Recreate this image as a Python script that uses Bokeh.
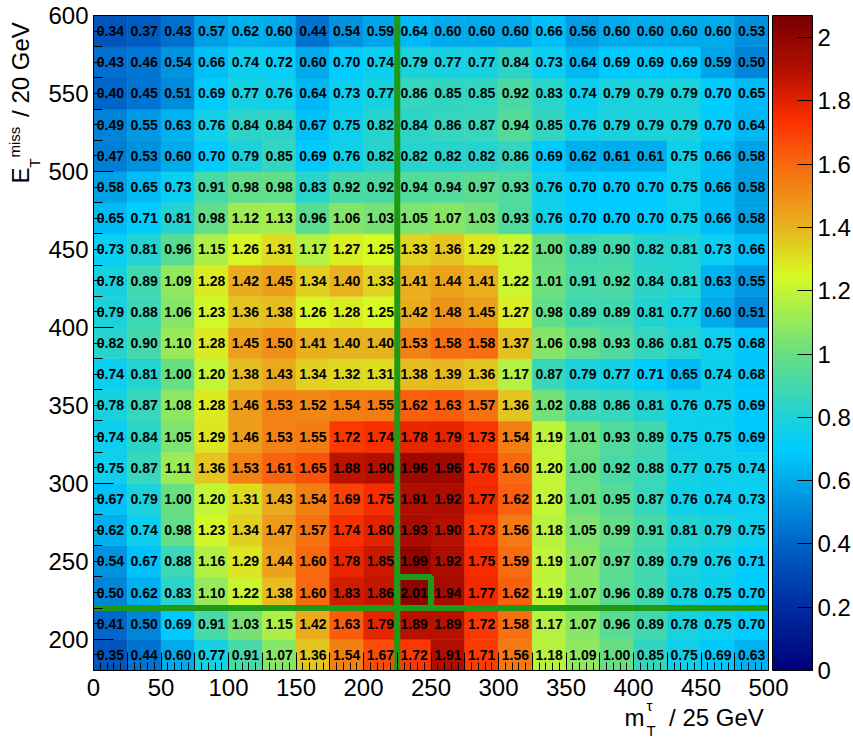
import numpy as np
from bokeh.plotting import figure
from bokeh.models import (ColumnDataSource, LinearColorMapper, ColorBar, FixedTicker,
                          CustomJSTickFormatter, Label, LinearAxis)
from bokeh.core.properties import value
from bokeh.embed import file_html
from bokeh.resources import INLINE

# ---------------------------------------------------------------- data
# lower edges of the bins (m_T^tau in 25 GeV bins, E_T^miss in 20 GeV bins)
mt_low = [0, 25, 50, 75, 100, 125, 150, 175, 200, 225,
          250, 275, 300, 325, 350, 375, 400, 425, 450, 475]
met_low = [180, 200, 220, 240, 260, 280, 300, 320, 340, 360, 380,
           400, 420, 440, 460, 480, 500, 520, 540, 560, 580]
mt_width = 25
met_width = 20
mt_range = (0, 500)
met_range = (180, 600)

# ratio per bin, one list per E_T^miss row (keyed by the row's lower edge)
row_580 = [0.34, 0.37, 0.43, 0.57, 0.62, 0.60, 0.44, 0.54, 0.59, 0.64, 0.60, 0.60, 0.60, 0.66, 0.56, 0.60, 0.60, 0.60, 0.60, 0.53]
row_560 = [0.43, 0.46, 0.54, 0.66, 0.74, 0.72, 0.60, 0.70, 0.74, 0.79, 0.77, 0.77, 0.84, 0.73, 0.64, 0.69, 0.69, 0.69, 0.59, 0.50]
row_540 = [0.40, 0.45, 0.51, 0.69, 0.77, 0.76, 0.64, 0.73, 0.77, 0.86, 0.85, 0.85, 0.92, 0.83, 0.74, 0.79, 0.79, 0.79, 0.70, 0.65]
row_520 = [0.49, 0.55, 0.63, 0.76, 0.84, 0.84, 0.67, 0.75, 0.82, 0.84, 0.86, 0.87, 0.94, 0.85, 0.76, 0.79, 0.79, 0.79, 0.70, 0.64]
row_500 = [0.47, 0.53, 0.60, 0.70, 0.79, 0.85, 0.69, 0.76, 0.82, 0.82, 0.82, 0.82, 0.86, 0.69, 0.62, 0.61, 0.61, 0.75, 0.66, 0.58]
row_480 = [0.58, 0.65, 0.73, 0.91, 0.98, 0.98, 0.83, 0.92, 0.92, 0.94, 0.94, 0.97, 0.93, 0.76, 0.70, 0.70, 0.70, 0.75, 0.66, 0.58]
row_460 = [0.65, 0.71, 0.81, 0.98, 1.12, 1.13, 0.96, 1.06, 1.03, 1.05, 1.07, 1.03, 0.93, 0.76, 0.70, 0.70, 0.70, 0.75, 0.66, 0.58]
row_440 = [0.73, 0.81, 0.96, 1.15, 1.26, 1.31, 1.17, 1.27, 1.25, 1.33, 1.36, 1.29, 1.22, 1.00, 0.89, 0.90, 0.82, 0.81, 0.73, 0.66]
row_420 = [0.78, 0.89, 1.09, 1.28, 1.42, 1.45, 1.34, 1.40, 1.33, 1.41, 1.44, 1.41, 1.22, 1.01, 0.91, 0.92, 0.84, 0.81, 0.63, 0.55]
row_400 = [0.79, 0.88, 1.06, 1.23, 1.36, 1.38, 1.26, 1.28, 1.25, 1.42, 1.48, 1.45, 1.27, 0.98, 0.89, 0.89, 0.81, 0.77, 0.60, 0.51]
row_380 = [0.82, 0.90, 1.10, 1.28, 1.45, 1.50, 1.41, 1.40, 1.40, 1.53, 1.58, 1.58, 1.37, 1.06, 0.98, 0.93, 0.86, 0.81, 0.75, 0.68]
row_360 = [0.74, 0.81, 1.00, 1.20, 1.38, 1.43, 1.34, 1.32, 1.31, 1.38, 1.39, 1.36, 1.17, 0.87, 0.79, 0.77, 0.71, 0.65, 0.74, 0.68]
row_340 = [0.78, 0.87, 1.08, 1.28, 1.46, 1.53, 1.52, 1.54, 1.55, 1.62, 1.63, 1.57, 1.36, 1.02, 0.88, 0.86, 0.81, 0.76, 0.75, 0.69]
row_320 = [0.74, 0.84, 1.05, 1.29, 1.46, 1.53, 1.55, 1.72, 1.74, 1.78, 1.79, 1.73, 1.54, 1.19, 1.01, 0.93, 0.89, 0.75, 0.75, 0.69]
row_300 = [0.75, 0.87, 1.11, 1.36, 1.53, 1.61, 1.65, 1.88, 1.90, 1.96, 1.96, 1.76, 1.60, 1.20, 1.00, 0.92, 0.88, 0.77, 0.75, 0.74]
row_280 = [0.67, 0.79, 1.00, 1.20, 1.31, 1.43, 1.54, 1.69, 1.75, 1.91, 1.92, 1.77, 1.62, 1.20, 1.01, 0.95, 0.87, 0.76, 0.74, 0.73]
row_260 = [0.62, 0.74, 0.98, 1.23, 1.34, 1.47, 1.57, 1.74, 1.80, 1.93, 1.90, 1.73, 1.56, 1.18, 1.05, 0.99, 0.91, 0.81, 0.79, 0.75]
row_240 = [0.54, 0.67, 0.88, 1.16, 1.29, 1.44, 1.60, 1.78, 1.85, 1.99, 1.92, 1.75, 1.59, 1.19, 1.07, 0.97, 0.89, 0.79, 0.76, 0.71]
row_220 = [0.50, 0.62, 0.83, 1.10, 1.22, 1.38, 1.60, 1.83, 1.86, 2.01, 1.94, 1.77, 1.62, 1.19, 1.07, 0.96, 0.89, 0.78, 0.75, 0.70]
row_200 = [0.41, 0.50, 0.69, 0.91, 1.03, 1.15, 1.42, 1.63, 1.79, 1.89, 1.89, 1.72, 1.58, 1.17, 1.07, 0.96, 0.89, 0.78, 0.75, 0.70]
row_180 = [0.35, 0.44, 0.60, 0.77, 0.91, 1.07, 1.36, 1.54, 1.67, 1.72, 1.91, 1.71, 1.56, 1.18, 1.09, 1.00, 0.85, 0.75, 0.69, 0.63]

rows = [row_180, row_200, row_220, row_240, row_260, row_280, row_300, row_320,
        row_340, row_360, row_380, row_400, row_420, row_440, row_460, row_480,
        row_500, row_520, row_540, row_560, row_580]

# selected cuts: m_T^tau > 225 GeV, E_T^miss > 220 GeV; best bin marked by a box
cut_mt = 225
cut_met = 220
best_mt_low = 225
best_met_low = 220

# axis ticks
x_tick_values = [0, 50, 100, 150, 200, 250, 300, 350, 400, 450, 500]
y_tick_values = [200, 250, 300, 350, 400, 450, 500, 550, 600]
y_long_ticks = [200, 300, 400, 500, 600]
z_tick_values = [0, 0.2, 0.4, 0.6, 0.8, 1.0, 1.2, 1.4, 1.6, 1.8, 2.0]
z_max = 2.07

# ---------------------------------------------------------------- style
FONT = "Liberation Sans"
GREEN = "#1e9a16"
W, H = 853, 744
# pixel box of the histogram area on the canvas
BOX_L, BOX_R, BOX_T, BOX_B = 93, 768, 15, 670
BAR_L, BAR_W = 772, 40

sx = (BOX_R - BOX_L) / (mt_range[1] - mt_range[0])      # px per GeV (x)
sy = (BOX_B - BOX_T) / (met_range[1] - met_range[0])    # px per GeV (y)


def dx(px):
    """canvas pixel column -> m_T value"""
    return mt_range[0] + (px - BOX_L) / sx


def dy(py):
    """canvas pixel row -> E_T^miss value"""
    return met_range[1] - (py - BOX_T) / sy


# rainbow palette (navy -> blue -> cyan -> green -> yellow -> orange -> red -> dark red)
stops = [
    (0.000, (0, 0, 125)),
    (0.097, (0, 45, 160)),
    (0.193, (0, 100, 200)),
    (0.290, (0, 170, 235)),
    (0.338, (0, 205, 255)),
    (0.386, (30, 210, 215)),
    (0.483, (105, 222, 130)),
    (0.604, (215, 250, 35)),
    (0.676, (232, 180, 30)),
    (0.773, (248, 105, 15)),
    (0.845, (250, 45, 0)),
    (0.918, (180, 15, 0)),
    (1.000, (120, 0, 0)),
]
pos = np.array([s[0] for s in stops])
rgb = np.array([s[1] for s in stops], dtype=float)
t = np.linspace(0, 1, 256)
palette = ["#%02x%02x%02x" % tuple(int(round(np.interp(v, pos, rgb[:, k]))) for k in range(3))
           for v in t]
mapper = LinearColorMapper(palette=palette, low=0, high=z_max)

# ---------------------------------------------------------------- table
xs, ys, zs, texts = [], [], [], []
for y0, row in zip(met_low, rows):
    for x0, z in zip(mt_low, row):
        xs.append(x0 + mt_width / 2)
        ys.append(y0 + met_width / 2)
        zs.append(z)
        texts.append("%.2f" % z)
src = ColumnDataSource(dict(x=xs, y=ys, z=zs, text=texts))

# ---------------------------------------------------------------- figure
# the frame covers the whole canvas; axes sit at fixed locations so that the
# titles (with sub/superscripts) and the colour scale can be placed freely
p = figure(width=W, height=H,
           x_range=(dx(0), dx(W)), y_range=(dy(H), dy(0)),
           output_backend="svg", toolbar_location=None,
           x_axis_location=None, y_axis_location=None,
           min_border_left=0, min_border_right=0,
           min_border_top=0, min_border_bottom=0)
p.grid.visible = False
p.outline_line_color = None
p.background_fill_color = "white"
p.border_fill_color = "white"

p.rect(x="x", y="y", width=mt_width, height=met_width, source=src,
       fill_color={"field": "z", "transform": mapper},
       line_color={"field": "z", "transform": mapper}, line_width=0.6)

p.text(x="x", y="y", text="text", source=src, text_align="center",
       text_baseline="middle", text_font=value(FONT), text_font_style="bold",
       text_font_size="14px", text_color="black")

# cut lines and the marked bin
p.line(x=[cut_mt, cut_mt], y=list(met_range), line_color=GREEN, line_width=6)
p.line(x=list(mt_range), y=[cut_met, cut_met], line_color=GREEN, line_width=6)
p.rect(x=[best_mt_low + mt_width / 2], y=[best_met_low + met_width / 2],
       width=mt_width, height=met_width, fill_color=None,
       line_color=GREEN, line_width=6)


# ---------------------------------------------------------------- axes
def style_axis(ax):
    ax.axis_line_color = "black"
    ax.axis_line_width = 1
    ax.major_tick_out = 0
    ax.minor_tick_out = 0
    ax.major_tick_line_color = "black"
    ax.minor_tick_line_color = "black"
    ax.major_label_text_font = FONT
    ax.major_label_text_font_size = "24px"
    ax.major_label_text_color = "black"


no_labels = CustomJSTickFormatter(code="return '';")

xa = LinearAxis(fixed_location=met_range[0], bounds=mt_range,
                ticker=FixedTicker(ticks=list(range(0, 501, 25)),
                                   minor_ticks=list(range(0, 501, 5))),
                formatter=CustomJSTickFormatter(
                    code="return (tick % 50 == 0) ? String(tick) : '';"))
style_axis(xa)
xa.major_tick_in = 18
xa.minor_tick_in = 8
xa.major_label_standoff = 8
p.add_layout(xa, "below")

ya = LinearAxis(fixed_location=mt_range[0], bounds=met_range,
                ticker=FixedTicker(ticks=y_tick_values,
                                   minor_ticks=list(range(180, 601, 10))))
style_axis(ya)
ya.major_tick_in = 9
ya.minor_tick_in = 9
ya.major_label_standoff = 5
p.add_layout(ya, "left")

# long ticks every 100 GeV on the E_T^miss axis
ya2 = LinearAxis(fixed_location=mt_range[0], bounds=met_range,
                 ticker=FixedTicker(ticks=y_long_ticks), formatter=no_labels)
style_axis(ya2)
ya2.axis_line_color = None
ya2.major_tick_in = 20
ya2.minor_tick_line_color = None
p.add_layout(ya2, "left")

# closing lines of the box (top and right)
for side, loc, bnds in (("above", met_range[1], mt_range), ("right", mt_range[1], met_range)):
    ax = LinearAxis(fixed_location=loc, bounds=bnds, formatter=no_labels,
                    ticker=FixedTicker(ticks=[]))
    ax.axis_line_color = "black"
    ax.major_tick_line_color = None
    ax.minor_tick_line_color = None
    p.add_layout(ax, side)

# colour scale, bottom-left corner given relative to the canvas bottom-left
cb = ColorBar(color_mapper=mapper, width=BAR_W, height=BOX_B - BOX_T,
              location=(BAR_L, H - BOX_B), padding=0, margin=0, label_standoff=5,
              ticker=FixedTicker(ticks=z_tick_values),
              formatter=CustomJSTickFormatter(code="return String(Math.round(tick * 10) / 10);"),
              major_tick_in=15, major_tick_out=0, major_tick_line_color="black",
              minor_tick_line_color=None, bar_line_color="black",
              major_label_text_font=FONT, major_label_text_font_size="24px",
              major_label_text_color="black",
              background_fill_color=None, border_line_color=None)
p.add_layout(cb)

# ---------------------------------------------------------------- axis titles
title_font = "24px"
script_font = "15px"


def add_text(px, py, text, size, align="left", angle=0.0):
    p.add_layout(Label(x=dx(px), y=dy(py), text=text, text_align=align, angle=angle,
                       text_font=FONT, text_font_size=size, text_color="black"))


# x title: m_T^tau / 25 GeV
add_text(770, 730, " / 25 GeV", title_font, "right")
add_text(624, 730, "m", title_font)
add_text(646, 738, "T", script_font)
add_text(646, 713, "τ", script_font)
# y title: E_T^miss / 20 GeV (rotated, reading upwards)
ang = np.pi / 2
add_text(33, 15, " / 20 GeV", title_font, "right", ang)
add_text(33, 183, "E", title_font, "left", ang)
add_text(42, 167, "T", script_font, "left", ang)
add_text(22, 157, "miss", script_font, "left", ang)

open("out.html", "w").write(file_html(p, INLINE))
